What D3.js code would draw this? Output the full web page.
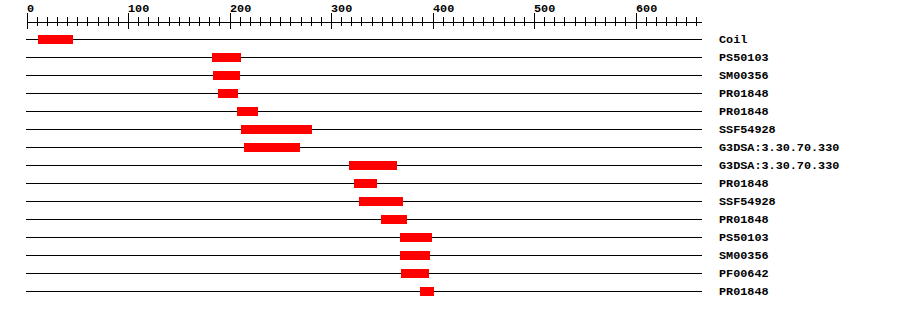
<!DOCTYPE html>
<html>
<head>
<meta charset="utf-8">
<script src="https://cdn.jsdelivr.net/npm/d3@7"></script>
<style>
  html, body { margin: 0; padding: 0; background: #fff; }
  svg { display: block; }
  text { font-family: "Liberation Mono", "DejaVu Sans Mono", monospace; font-weight: bold; font-size: 11.8px; fill: #000; }
</style>
</head>
<body>
<svg id="chart" width="900" height="310"></svg>
<script>
// sequence length and ruler ticks
const seqLength = 665;
const tickLabels = [0, 100, 200, 300, 400, 500, 600];
const minorStep = 10;

// one feature per row
const names = ["Coil", "PS50103", "SM00356", "PR01848", "PR01848", "SSF54928",
  "G3DSA:3.30.70.330", "G3DSA:3.30.70.330", "PR01848", "SSF54928", "PR01848",
  "PS50103", "SM00356", "PF00642", "PR01848"];
const starts = [11, 183, 184, 189, 207, 211, 214, 318, 323, 328, 349, 368, 368, 369, 388];
const ends   = [46, 211, 210, 208, 228, 281, 269, 365, 345, 371, 375, 399, 398, 397, 401];

const svg = d3.select("#chart");
const x = d3.scaleLinear().domain([0, seqLength]).range([26.5, 701.5]);
const y = d3.scaleLinear().domain([0, names.length - 1]).range([39.5, 39.5 + 18 * (names.length - 1)]);
const axisY = 22.5;

// ruler
const ruler = svg.append("g").attr("stroke", "#000").attr("shape-rendering", "crispEdges");
ruler.append("line")
  .attr("x1", x(0)).attr("x2", x(seqLength))
  .attr("y1", axisY).attr("y2", axisY);

const minor = d3.range(0, seqLength + 1, minorStep);
ruler.selectAll("line.tick")
  .data(minor)
  .join("line")
  .attr("class", "tick")
  .attr("x1", d => Math.round(x(d)) + 0.5).attr("x2", d => Math.round(x(d)) + 0.5)
  .attr("y1", d => d % 100 === 0 ? 13 : 17)
  .attr("y2", d => d % 100 === 0 ? 29 : 26);

svg.append("g").selectAll("text")
  .data(tickLabels)
  .join("text")
  .attr("x", d => Math.round(x(d)))
  .attr("y", 12)
  .text(d => d);

// rows
const rows = svg.append("g").attr("shape-rendering", "crispEdges");
rows.selectAll("line")
  .data(names)
  .join("line")
  .attr("stroke", "#000")
  .attr("x1", x(0) - 0.5).attr("x2", x(seqLength))
  .attr("y1", (d, i) => y(i)).attr("y2", (d, i) => y(i));

rows.selectAll("rect")
  .data(names)
  .join("rect")
  .attr("fill", "#ff0000")
  .attr("x", (d, i) => Math.round(x(starts[i])))
  .attr("width", (d, i) => Math.round(x(ends[i])) - Math.round(x(starts[i])))
  .attr("y", (d, i) => y(i) - 4.5)
  .attr("height", 9);

svg.append("g").selectAll("text")
  .data(names)
  .join("text")
  .attr("x", 719)
  .attr("y", (d, i) => y(i) + 3.5)
  .text(d => d);
</script>
</body>
</html>
